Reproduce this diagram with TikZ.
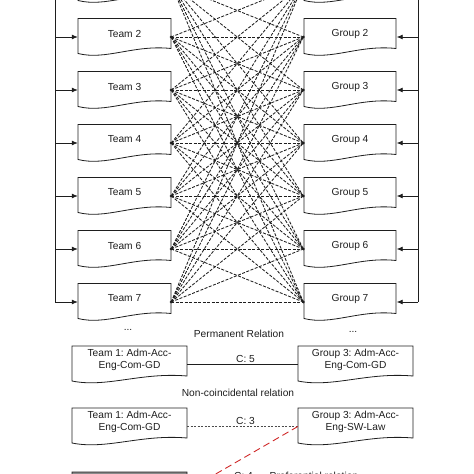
\documentclass[tikz,border=0pt]{standalone}
\usepackage{fontspec}
\setmainfont{Liberation Sans}
\usetikzlibrary{arrows.meta,calc,backgrounds}
\frenchspacing
\definecolor{ink}{HTML}{1E1E1E}
\definecolor{relred}{HTML}{D02A2A}
\definecolor{boxgray}{HTML}{8A8A8A}
\tikzset{
  box/.style={minimum width=93pt, minimum height=37pt, inner sep=0pt},
  wbox/.style={minimum width=115pt, minimum height=37pt, inner sep=0pt},
  lbl/.style={font=\fontsize{10.2}{12}\selectfont, text=ink, inner sep=1.5pt},
  docline/.style={draw=ink, line width=0.8pt},
  bus/.style={draw=ink, line width=0.8pt},
  feed/.style={draw=ink, line width=0.8pt, -{Latex[length=6pt,width=5pt]}},
  rel/.style={draw=ink, line width=0.85pt, dash pattern=on 3pt off 1.5pt},
  solidrel/.style={draw=ink, line width=0.8pt},
  thinrel/.style={draw=ink!80, line width=0.6pt, dash pattern=on 2pt off 1.5pt},
  prefrel/.style={draw=relred, line width=0.9pt, dash pattern=on 7pt off 4pt},
}
\newcommand\docshape[3][]{%
  \begin{scope}[on background layer]
  \draw[docline,#1] ($(#2.center)+(-#3,-18.5)$) -- ($(#2.center)+(#3,-18.5)$)
    -- ($(#2.center)+(#3,11.5)$)
    .. controls ($(#2.center)+(0.2*#3,7.5)$) and ($(#2.center)+(-0.4*#3,23.5)$) ..
    ($(#2.center)+(-#3,16.5)$) -- cycle;
  \end{scope}}
\begin{document}
\begin{tikzpicture}[x=1pt,y=-1pt]
\useasboundingbox (0,0) rectangle (474,474);
\clip (0,0) rectangle (474,474);

% bus lines
\coordinate (ltop) at (55,-60);
\coordinate (rtop) at (418,-60);

% first row (cut off at the top edge)
\node[box] (t1) at (124.5,-16) {};
\docshape{t1}{46.5}
\node[box] (g1) at (350,-16) {};
\docshape{g1}{46}

\foreach \i in {2,...,7} {
  \pgfmathsetmacro\yy{37+53*(\i-2)}
  \node[box, label={[lbl,yshift=3.5pt]center:Team \i}] (t\i) at (124.5,\yy) {};
  \docshape{t\i}{46.5}
  \node[box, label={[lbl,yshift=3.5pt]center:Group \i}] (g\i) at (350,\yy) {};
  \docshape{g\i}{46}
}

\draw[bus] (ltop) -- (ltop |- t7.west);
\draw[bus] (rtop) -- (rtop |- g7.east);
\foreach \i in {1,...,7} {
  \draw[feed] (ltop |- t\i.west) -- (t\i.west);
  \draw[feed] (rtop |- g\i.east) -- (g\i.east);
}

% all-to-all relations
\foreach \i in {1,...,7} {
  \foreach \j in {1,...,7} {
    \draw[rel] (t\i.east) -- (g\j.west);
  }
}
\foreach \i in {1,...,7} {
  \fill[ink] (t\i.east) circle (1.5pt);
  \fill[ink] (g\i.west) circle (1.5pt);
}

\node[lbl] (dotsl) at (128,330) {...};
\node[lbl] (dotsr) at (353,332) {...};
\node[lbl] (perm) at (239,334) {Permanent Relation};

% permanent relation example
\node[wbox, label={[lbl,align=center,yshift=4.5pt]center:{Team 1: Adm-Acc-\\Eng-Com-GD}}] (a1) at (129.5,364.5) {};
\docshape{a1}{57.5}
\node[wbox, label={[lbl,align=center,yshift=4.5pt]center:{Group 3: Adm-Acc-\\Eng-Com-GD}}] (b1) at (355.5,364.5) {};
\docshape{b1}{57.5}
\draw[solidrel] (a1.east) -- node[lbl, above, xshift=3pt] {C: 5} (b1.west);

\node[lbl] (nonc) at (238,393) {Non-coincidental relation};

% non-coincidental example
\node[wbox, label={[lbl,align=center,yshift=4.5pt]center:{Team 1: Adm-Acc-\\Eng-Com-GD}}] (a2) at (129.5,426.5) {};
\docshape{a2}{57.5}
\node[wbox, label={[lbl,align=center,yshift=4.5pt]center:{Group 3: Adm-Acc-\\Eng-SW-Law}}] (b2) at (355.5,426.5) {};
\docshape{b2}{57.5}
\draw[thinrel] (a2.east) -- node[lbl, above, xshift=3pt] {C: 3} (b2.west);

% preferential example (cut off at the bottom)
\node[wbox] (a3) at (129.5,490.5) {};
\docshape[fill=boxgray]{a3}{57.5}
\draw[prefrel] (a3.east) -- (b2.west);
\node[lbl] (c4) at (243.5,476) {C: 4};
\node[lbl, anchor=west] (pref) at (268,476) {Preferential relation};
\end{tikzpicture}
\end{document}
